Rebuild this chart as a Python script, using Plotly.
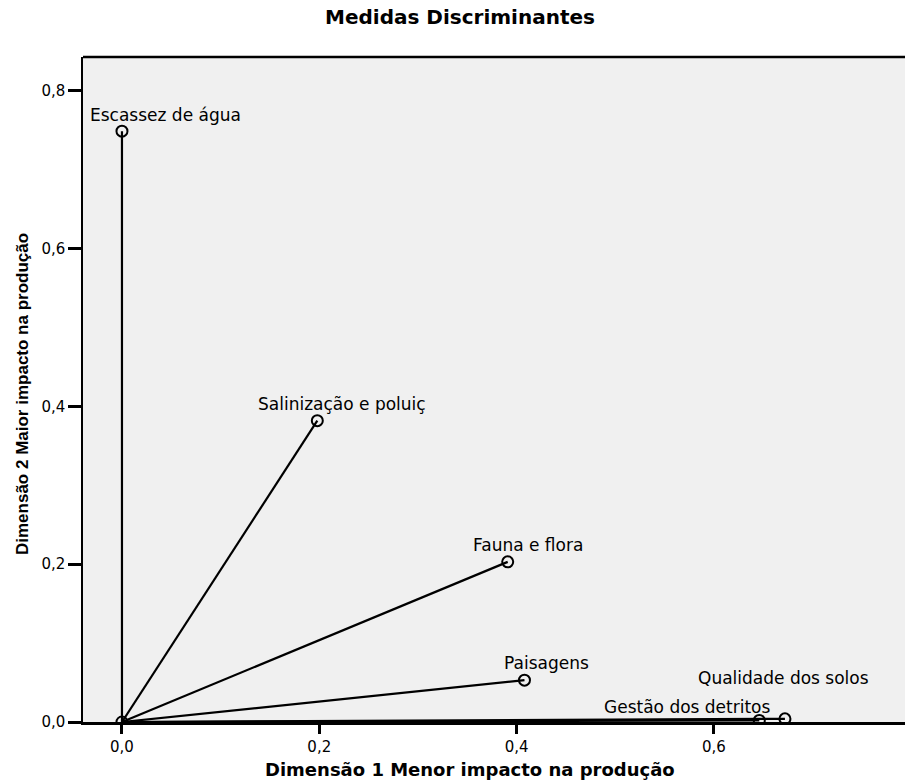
import plotly.graph_objects as go

# Data (discrimination measures)
labels = ["Escassez de água", "Salinização e poluiç", "Fauna e flora",
          "Paisagens", "Gestão dos detritos", "Qualidade dos solos"]
dim1 = [0.000, 0.198, 0.391, 0.408, 0.646, 0.672]
dim2 = [0.749, 0.382, 0.203, 0.053, 0.002, 0.004]

x_ticks = [0.0, 0.2, 0.4, 0.6]
y_ticks = [0.0, 0.2, 0.4, 0.6, 0.8]

title_text = "Medidas Discriminantes"
x_title = "Dimensão 1 Menor impacto na produção"
y_title = "Dimensão 2 Maior impacto na produção"

# label offsets in pixels (styling)
label_xshift = [44, 25, 20, 22, -72, -1]
label_yshift = [16, 17, 17, 17, 13, 41]

W, H = 905, 780
ML, MR, MT, MB = 83, 0, 57, 58
PW, PH = W - ML - MR, H - MT - MB

font_wide = "DejaVu Sans, Verdana, sans-serif"
font_arial = "Liberation Sans, Arial, sans-serif"

fig = go.Figure()

for xi, yi in zip(dim1, dim2):
    fig.add_trace(go.Scatter(
        x=[0, xi], y=[0, yi], mode="lines",
        line=dict(color="black", width=2.2),
        hoverinfo="skip", showlegend=False))

fig.add_trace(go.Scatter(
    x=[0] + dim1, y=[0] + dim2, mode="markers",
    marker=dict(symbol="circle-open", size=11, color="black",
                line=dict(width=2, color="black")),
    showlegend=False))

for lab, xi, yi, xs, ys in zip(labels, dim1, dim2, label_xshift, label_yshift):
    fig.add_annotation(x=xi, y=yi, text=lab, showarrow=False,
                       xshift=xs, yshift=ys,
                       font=dict(family=font_wide, size=17, color="black"))

# axis titles as annotations (positioned like the reference)
fig.add_annotation(xref="paper", yref="paper",
                   x=(470 - ML) / PW, y=-(769 - (H - MB)) / PH,
                   xanchor="center", yanchor="middle", showarrow=False,
                   text="<b>" + x_title + "</b>",
                   font=dict(family=font_wide, size=18, color="black"))
fig.add_annotation(xref="paper", yref="paper",
                   x=-(ML - 22) / PW, y=((H - MB) - 394) / PH,
                   xanchor="center", yanchor="middle", showarrow=False,
                   textangle=-90,
                   text="<b>" + y_title + "</b>",
                   font=dict(family=font_arial, size=17, color="black"))

fig.update_layout(
    width=W, height=H,
    separators=",.",
    paper_bgcolor="white",
    plot_bgcolor="#f0f0f0",
    margin=dict(l=ML, r=MR, t=MT, b=MB),
    title=dict(text="<b>" + title_text + "</b>", xref="container",
               x=460 / W, xanchor="center",
               y=1 - 17 / H, yanchor="middle",
               font=dict(family=font_wide, size=20, color="black")),
    showlegend=False,
)

fig.update_xaxes(
    range=[-0.0395, 0.7937], tickvals=x_ticks, tickformat=".1f",
    showgrid=False, zeroline=False,
    showline=True, linecolor="black", linewidth=3,
    ticks="outside", ticklen=9, tickwidth=2.5, tickcolor="black",
    tickfont=dict(family=font_wide, size=15, color="black"),
)
fig.update_yaxes(
    range=[0, 0.843], tickvals=y_ticks, tickformat=".1f",
    showgrid=False, zeroline=False,
    showline=True, linecolor="black", linewidth=1.5,
    ticks="outside", ticklen=13, tickwidth=2.5, tickcolor="black",
    tickfont=dict(family=font_wide, size=15, color="black"),
)

# top border of the plot area
fig.add_shape(type="line", xref="paper", yref="paper",
              x0=0, x1=1, y0=1, y1=1, line=dict(color="black", width=2.5))

fig.write_html("out.html",
               config={"displayModeBar": False},
               post_script="document.body.style.margin='0px';"
                           "document.body.style.overflow='hidden';")
